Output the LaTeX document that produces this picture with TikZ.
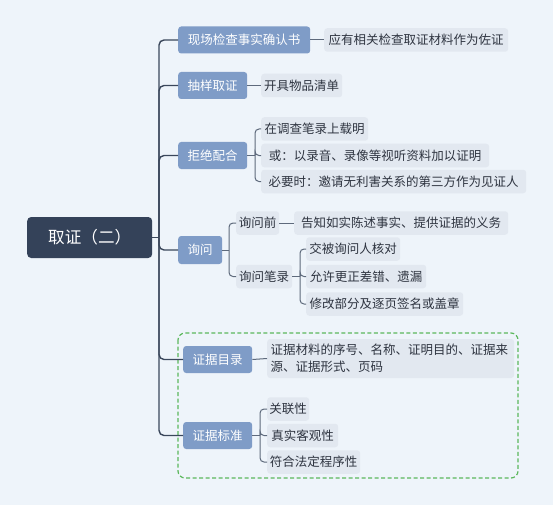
\documentclass[tikz,border=0pt]{standalone}
\usepackage{fontspec}
\setmainfont{Noto Sans CJK SC}
\definecolor{bgc}{HTML}{EEF4FA}
\definecolor{rootc}{HTML}{344259}
\definecolor{lonec}{HTML}{7F9CC7}
\definecolor{ltwoc}{HTML}{E2E8F0}
\definecolor{txtc}{HTML}{2E3440}
\definecolor{trunkc}{HTML}{3A475B}
\definecolor{subc}{HTML}{5E6A7C}
\definecolor{grn}{HTML}{5CB85C}
\begin{document}
\begin{tikzpicture}[x=1pt,y=-1pt,
  font=\fontsize{12.5}{14}\selectfont,
  rootbox/.style={fill=rootc, text=white, rounded corners=4pt, minimum height=41pt, inner sep=0pt, anchor=west, font=\fontsize{16.6}{20}\selectfont},
  lone/.style={fill=lonec, text=white, rounded corners=3pt, minimum height=27pt, inner sep=0pt, anchor=west},
  ltwo/.style={fill=ltwoc, text=txtc, rounded corners=3pt, minimum height=23.5pt, inner sep=0pt, anchor=west},
  trunk/.style={draw=trunkc, line width=1.4pt, rounded corners=5pt},
  sub/.style={draw=subc, line width=1pt, rounded corners=4pt}]
\fill[bgc] (0,0) rectangle (553,505);
\useasboundingbox (0,0) rectangle (553,505);
% dashed group
\draw[grn, line width=1.2pt, dash pattern=on 4pt off 2.5pt, rounded corners=7pt] (178,333) rectangle (518,478);
% root
\node[rootbox, minimum width=125pt] (root) at (27,237.5) {取证（二）};
% level 1
\node[lone, minimum width=132pt] (a) at (178,40) {现场检查事实确认书};
\node[lone, minimum width=69pt] (b) at (178,85.5) {抽样取证};
\node[lone, minimum width=44pt, minimum height=28pt] (d) at (178,250) {询问};
\node[lone, minimum width=69pt] (c) at (178,155.5) {拒绝配合};
\node[lone, minimum width=69pt] (e) at (183,359.5) {证据目录};
\node[lone, minimum width=69pt] (f) at (183,435.5) {证据标准};
% level 2
\node[ltwo, minimum width=184pt] (a1) at (324,40) {应有相关检查取证材料作为佐证};
\node[ltwo, minimum width=81pt] (b1) at (261,85.5) {开具物品清单};
\node[ltwo, minimum width=107pt] (c1) at (261,129) {在调查笔录上载明};
\node[ltwo, minimum width=228pt] (c2) at (261,155.5) {或：以录音、录像等视听资料加以证明};
\node[ltwo, minimum width=265pt] (c3) at (261,181.5) {必要时：邀请无利害关系的第三方作为见证人};
\node[ltwo, minimum width=43pt] (d1) at (236,223) {询问前};
\node[ltwo, minimum width=214pt] (d1a) at (294,223) {告知如实陈述事实、提供证据的义务};
\node[ltwo, minimum width=56pt] (d2) at (236,276.5) {询问笔录};
\node[ltwo, minimum width=94pt] (d2a) at (306,249) {交被询问人核对};
\node[ltwo, minimum width=120pt] (d2b) at (306,276.5) {允许更正差错、遗漏};
\node[ltwo, minimum width=157pt] (d2c) at (306,304) {修改部分及逐页签名或盖章};
\node[ltwo, minimum width=247pt, minimum height=39pt, text width=240pt, align=left, font=\fontsize{12.5}{17}\selectfont] (e1) at (267,358.5) {证据材料的序号、名称、证明目的、证据来\\源、证据形式、页码};
\node[ltwo, minimum width=42pt] (f1) at (267,409) {关联性};
\node[ltwo, minimum width=71pt] (f2) at (267,435.5) {真实客观性};
\node[ltwo, minimum width=93pt] (f3) at (267,462) {符合法定程序性};
% trunk connectors
\coordinate (tr) at (159,237.5);
\draw[trunk] (root.east) -- (tr);
\foreach \n in {a,b,c,d,e,f} \draw[trunk] (tr) |- (\n.west);
% level 2 connectors
\draw[sub] (a.east) -- (a1.west);
\draw[sub] (b.east) -- (b1.west);
\coordinate (cb) at (255,155.5);
\draw[sub] (c.east) -- (cb);
\foreach \n in {c1,c2,c3} \draw[sub] (cb) |- (\n.west);
\coordinate (db) at (229,250);
\draw[sub] (d.east) -- (db);
\foreach \n in {d1,d2} \draw[sub] (db) |- (\n.west);
\draw[sub] (d1.east) -- (d1a.west);
\coordinate (d2k) at (300,276.5);
\draw[sub] (d2.east) -- (d2k);
\foreach \n in {d2a,d2b,d2c} \draw[sub] (d2k) |- (\n.west);
\draw[sub] (e.east) -- (e1.west);
\coordinate (fb) at (260,435.5);
\draw[sub] (f.east) -- (fb);
\foreach \n in {f1,f2,f3} \draw[sub] (fb) |- (\n.west);
\end{tikzpicture}
\end{document}
